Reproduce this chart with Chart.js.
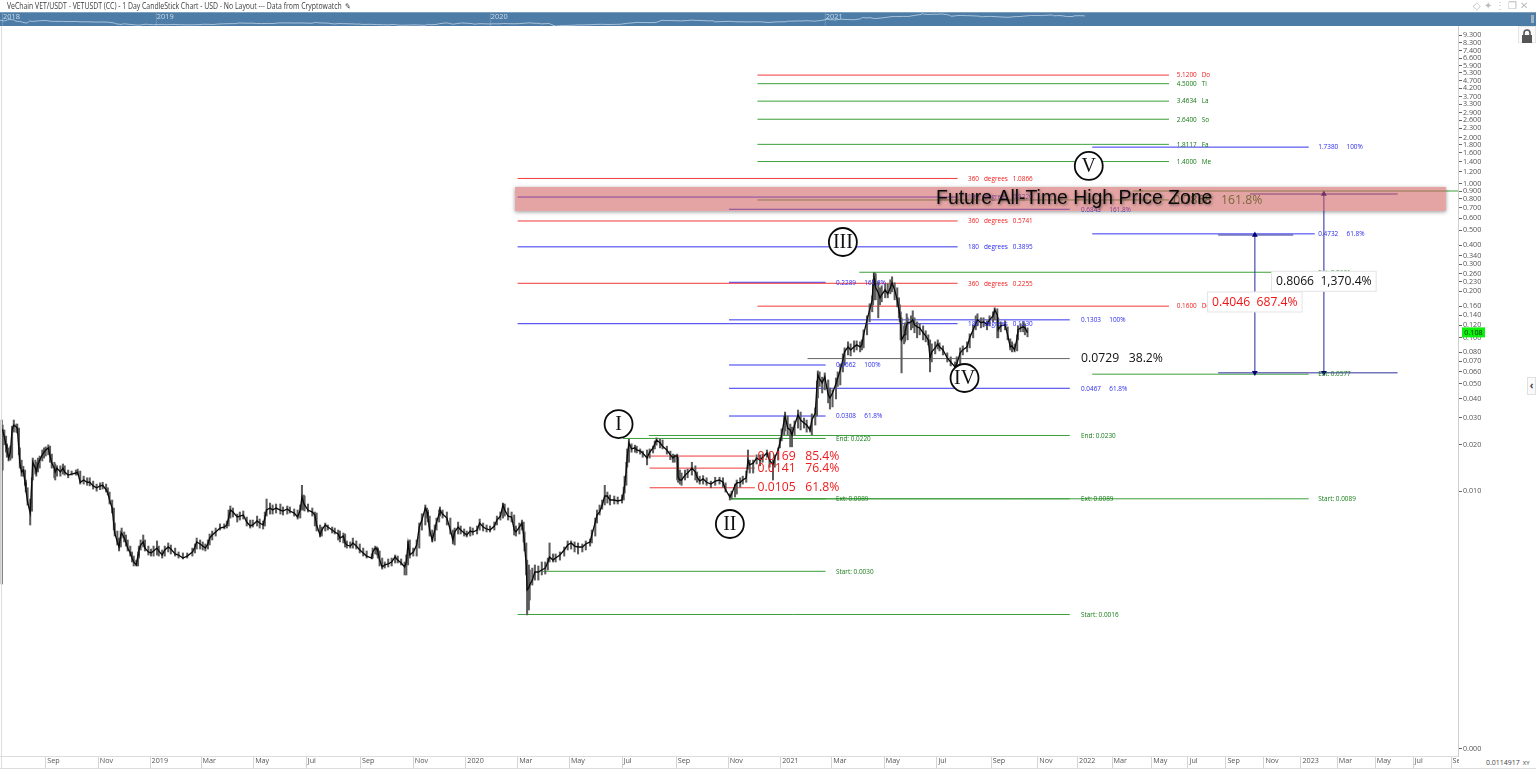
<!DOCTYPE html>
<html><head><meta charset="utf-8">
<script src="https://cdn.jsdelivr.net/npm/chart.js@4/dist/chart.umd.min.js"></script>
<style>
html,body{margin:0;padding:0;background:#fff;overflow:hidden;font-family:"Open Sans",sans-serif}
#wrap{position:relative;width:1536px;height:771px}
#main{position:absolute;left:0;top:0}
#nav{position:absolute;left:0;top:12px;width:1536px;height:14px;background:#4d7ca6;border-top:1px solid #7da0bf;box-sizing:border-box}
#title{position:absolute;left:7px;top:1px;font-size:8.1px;line-height:10px;color:#3a3a3a;white-space:nowrap;transform:scaleX(.85);transform-origin:0 0}
.abs{position:absolute}
#leftline{left:1px;top:26px;width:1px;height:742px;background:#ddd}
#botline{left:0;top:768px;width:1536px;height:1px;background:#ddd}
#cursor{left:1459px;top:757px;width:77px;height:11px;background:#fff;font-size:7px;line-height:11px;color:#444;white-space:nowrap}
#icons{left:1473px;top:0;width:63px;height:11px;font-size:10px;line-height:11px;color:#bbb;white-space:nowrap;letter-spacing:3px}
#lock{left:1518px;top:26px;width:18px;height:17px;background:#fafafa;border:1px solid #e6e6e6;box-sizing:border-box}
#chev{left:1527px;top:377px;width:9px;height:18px;background:#fafafa;border:1px solid #e0e0e0;box-sizing:border-box;font-size:10px;line-height:15px;text-align:center;color:#444;font-weight:bold}
</style></head><body>
<div id="wrap">
<canvas id="main" width="1536" height="771"></canvas>
<div id="title">VeChain VET/USDT - VETUSDT (CC) - 1 Day CandleStick Chart - USD - No Layout --- Data from Cryptowatch &nbsp;&#9998;</div>
<div id="nav"><canvas id="navc" width="1536" height="13"></canvas></div>
<div class="abs" id="leftline"></div><div class="abs" id="botline"></div>
<div class="abs" id="cursor"><span style="margin-left:27px">0.0114917</span><span style="margin-left:3px;font-size:6px">XY</span></div>
<div class="abs" id="icons">&#9671;&#10022;&#8942;&#10064;&#10005;</div>
<div class="abs" id="lock"><svg width="16" height="15" viewBox="0 0 16 15"><rect x="3" y="6" width="10" height="8" fill="#555"/><path d="M5 6V4a3 3 0 0 1 6 0v2" fill="none" stroke="#555" stroke-width="1.6"/></svg></div>
<div class="abs" id="chev">&#8249;</div>
</div>
<script>
// ---- chart values ----
const barDays=[
2,3,5,7,8,10,12,14,16,19,
20,22,23,25,27,29,30,32,35,37,
38,41,42,44,46,49,51,53,56,58,
60,63,64,66,70,73,75,79,83,88,
90,93,97,101,104,108,112,116,119,123,
125,127,130,132,133,136,138,140,141,144,
146,148,151,153,155,158,160,161,163,166,
168,172,175,178,182,184,188,191,195,198,
203,207,212,217,223,226,228,232,235,238,
241,243,246,250,255,260,263,265,267,270,
275,278,282,286,290,293,298,301,305,307,
309,313,316,320,325,328,333,336,341,345,
348,350,352,353,357,362,365,367,371,373,
377,380,385,388,392,394,398,400,402,406,
409,413,417,421,425,431,432,435,437,438,
440,443,446,450,454,458,461,465,469,471,
473,475,479,483,486,489,493,495,496,498,
501,504,506,509,510,513,518,522,525,527,
531,534,538,541,545,548,553,556,560,564,
568,573,576,580,583,585,589,593,596,598,
602,605,607,608,610,611,613,614,617,620,
624,628,632,635,637,641,644,649,654,658,
662,666,670,675,679,684,686,690,692,695,
698,701,704,707,712,716,721,723,724,726,
727,729,732,736,738,742,745,750,753,757,
759,761,765,768,773,777,780,782,785,786,
788,790,794,797,802,806,808,811,815,819,
824,829,834,838,841,846,848,852,854,858,
861,865,867,869,873,877,881,884,889,892,
896,898,902,904,906,909,910,913,916,918,
921,925,928,932,935,939,941,945,947,948,
950,953,956,960,962,965,969,971,974,977,
979,983,986,990,993,997,999,1001,1005,1008,
1011,1012,1013,1014,1015,1018,1020,1022,1026,1029,
1032,1034,1037,1040,1042,1043,1044,1045,1048,1049,
1051,1052,1056,1058,1060,1063,1066,1070,1073,1076,
1078,1080,1084,1087,1089,1093,1098,1102,1107,1109,
1113,1116,1121,1124,1128,1131,1133,1137,1140,1144,
1147,1151,1153,1156,1157,1160,1165,1168,1171,1173,
1176,1179,1180,1183,1186,1188,1191];
const closes=[
.025,.025,.0225,.02,.0185,.0164,.0179,.025,.0269,.0261,
.0257,.0185,.0152,.0133,.0137,.0114,.0102,.00848,.00719,.0118,
.0154,.0141,.0133,.015,.0159,.0172,.0179,.0185,.0191,.0169,
.0152,.0141,.0133,.0141,.0133,.0141,.0133,.0127,.0129,.0131,
.0133,.0114,.0118,.0114,.0114,.0108,.0105,.0108,.0109,.0102,
.0097,.00874,.00775,.00601,.00533,.00466,.00432,.00517,.00533,.00494,
.00466,.00425,.00395,.00366,.00345,.0033,.00383,.00413,.00445,.00466,
.00425,.00401,.00395,.00407,.00425,.00407,.00383,.00413,.00432,.00419,
.00389,.00383,.00366,.00377,.00401,.00432,.00466,.00452,.00438,.00425,
.00452,.00494,.00517,.00541,.00574,.00583,.00601,.00667,.00752,.0073,
.00677,.00687,.00698,.00628,.00592,.00601,.00638,.00619,.00601,.00667,
.00752,.00775,.00752,.00775,.00752,.00741,.00764,.00741,.00719,.00677,
.00752,.00914,.00835,.00811,.00752,.0073,.00698,.00601,.00517,.00557,
.00601,.00583,.00557,.00541,.00525,.00494,.00509,.00459,.00445,.00438,
.00459,.00438,.00413,.00395,.00377,.00366,.00401,.00425,.00419,.00401,
.00355,.0032,.0033,.00335,.00345,.00372,.00355,.0034,.0032,.00345,
.00459,.00383,.00401,.00445,.00583,.00647,.00775,.0073,.00677,.00557,
.0048,.00557,.00628,.00708,.00752,.00708,.00667,.00557,.0048,.00541,
.00583,.00557,.00533,.00517,.00549,.00541,.00557,.00619,.00583,.00566,
.00557,.00592,.00647,.00687,.00811,.00752,.00687,.00677,.00557,.00541,
.00583,.00619,.00517,.00445,.0033,.00227,.00235,.00245,.00263,.00297,
.00297,.00306,.00315,.00345,.00372,.00355,.00366,.00383,.00413,.00445,
.00459,.00438,.00432,.00432,.00452,.00466,.00517,.00628,.00698,.0073,
.00811,.00928,.00928,.00874,.00874,.00861,.00874,.00985,.0109,.0137,
.0166,.0206,.0188,.0191,.0185,.0182,.0177,.0164,.0179,.0191,
.0203,.0215,.0206,.0196,.0185,.0172,.0164,.0169,.0169,.0123,
.0118,.0118,.0127,.0131,.0141,.0133,.0123,.0116,.0120,.0114,
.0111,.0116,.0118,.0114,.0102,.00914,.00956,.0109,.0113,.0114,
.0118,.0122,.0159,.0148,.0152,.0164,.0159,.0166,.0177,.0159,
.0148,.0164,.0185,.0206,.0232,.029,.0308,.0257,.025,.0232,
.0269,.0313,.029,.0277,.0269,.025,.029,.0322,.0491,.057,
.0537,.0506,.0554,.0423,.0404,.0435,.0499,.0545,.0615,.0714,
.0806,.0869,.083,.0869,.0895,.0869,.0895,.1041,.1304,.1515,
.176,.2205,.2487,.2377,.2108,.1956,.1814,.1898,.2046,.1927,
.2108,.2272,.2046,.176,.1515,.1405,.121,.0965,.1041,.1089,
.121,.1246,.1265,.1304,.121,.1173,.1156,.1073,.1025,.0965,
.0737,.0806,.0856,.0909,.0869,.083,.0737,.0693,.0643,.0673,
.0794,.083,.0869,.0995,.1122,.1228,.1304,.1246,.1265,.121,
.1304,.1384,.1515,.1405,.1122,.1191,.121,.1041,.0869,.0882,
.083,.0995,.1122,.1156,.1173,.1156,.1073];
const highs=[
.029,.0269,.025,.0228,.0203,.0191,.0196,.0265,.029,.0273,
.0273,.0257,.0191,.0159,.0145,.0137,.0118,.0105,.00887,.0122,
.0164,.0159,.0154,.0164,.0169,.0185,.0191,.0194,.02,.0196,
.0174,.0154,.0150,.0146,.0146,.015,.0146,.0137,.0135,.0137,
.0139,.0135,.0125,.0122,.0122,.0116,.0111,.0113,.0114,.0111,
.0105,.00985,.00874,.00775,.00619,.00549,.00494,.00549,.00574,.00541,
.00517,.0048,.00438,.00401,.00377,.00355,.00401,.00438,.0048,.00517,
.0048,.00438,.00419,.00438,.00473,.00438,.00413,.00438,.00459,.00445,
.00425,.00401,.00395,.00395,.00425,.00452,.00494,.0048,.00466,.00452,
.0048,.00525,.00549,.00574,.00611,.00611,.00638,.00752,.00799,.00775,
.00708,.0073,.00741,.00677,.00647,.00647,.00687,.00657,.00638,.0073,
.00887,.00835,.00811,.00823,.00823,.00787,.00799,.00787,.00764,.00752,
.00811,.0109,.00942,.00928,.00823,.00775,.00730,.00719,.00601,.00583,
.00619,.00601,.00583,.00574,.00557,.00549,.00533,.00525,.00473,.00466,
.00494,.00473,.00452,.00425,.00407,.00389,.00425,.00438,.00432,.00425,
.00407,.00366,.00345,.00361,.00366,.00383,.00377,.00361,.00345,.00383,
.00473,.0048,.00425,.0048,.00619,.00711,.00811,.00775,.00752,.00687,
.00557,.00601,.00667,.00752,.00787,.00752,.00730,.00667,.00557,.00574,
.00628,.00592,.00566,.00549,.00583,.00574,.00592,.00657,.00619,.00601,
.00592,.00628,.00687,.0073,.00835,.00823,.00775,.0073,.00698,.00592,
.00619,.00647,.00628,.00541,.00459,.00355,.0033,.00306,.00315,.0033,
.00325,.00345,.00345,.00366,.00459,.00389,.00389,.00401,.00432,.00473,
.00473,.00466,.00459,.00452,.00473,.00487,.00557,.00667,.00752,.00811,
.00874,.0109,.00985,.00942,.00928,.00914,.00942,.0106,.0125,.0154,
.0188,.0218,.0203,.0199,.0196,.0188,.0182,.0185,.0188,.0196,
.0212,.0222,.0218,.0215,.0196,.0182,.0174,.0172,.0174,.0166,
.0137,.0131,.0137,.0139,.0154,.0146,.0133,.0125,.0126,.0122,
.0116,.0123,.0123,.0122,.0113,.00960,.00998,.0111,.0118,.0122,
.0125,.0135,.0185,.0159,.0159,.0172,.0172,.0174,.0185,.0177,
.0159,.0172,.0191,.0222,.0254,.0308,.0327,.0308,.0273,.0261,
.0286,.0337,.0327,.0299,.029,.0265,.0318,.0348,.0521,.0606,
.0597,.0552,.0588,.0529,.0469,.0456,.0545,.0597,.0673,.0782,
.0856,.0937,.0909,.0951,.0951,.0937,.0965,.1122,.1384,.1658,
.1869,.2377,.264,.264,.26,.2306,.2108,.2172,.2238,.2238,
.2377,.2487,.2272,.2108,.1814,.1633,.147,.1344,.1191,.1246,
.1427,.1344,.1384,.1492,.1344,.1265,.1228,.1191,.1105,.1041,
.0965,.0909,.0937,.0965,.0923,.0882,.0794,.0748,.0693,.0748,
.0856,.0882,.0937,.1057,.121,.1384,.1427,.1344,.1344,.1284,
.1384,.147,.1561,.1538,.1344,.1265,.1284,.1173,.098,.0937,
.0909,.1041,.1191,.1228,.1265,.1228,.1156];
const lows=[
.00248,.0137,.02,.0179,.0166,.0157,.0159,.0164,.0242,.0242,
.0239,.0172,.0141,.0125,.0125,.0109,.00985,.0081,.00601,.00739,
.0118,.0129,.0125,.0133,.0141,.0157,.0164,.0169,.0172,.0154,
.0141,.0122,.0118,.0125,.0125,.0129,.0127,.0122,.0127,.0127,
.0127,.0111,.0111,.0109,.0108,.0103,.00998,.0102,.0103,.00985,
.00942,.00823,.00719,.00557,.00509,.00445,.00407,.00432,.00494,.00466,
.00438,.00407,.00377,.00345,.00325,.00325,.00325,.00366,.00413,.00432,
.00407,.00383,.00377,.00377,.00383,.00377,.00366,.00377,.00401,.00389,
.00377,.00366,.00361,.00366,.00377,.00395,.00419,.00419,.00413,.00407,
.00419,.00445,.00480,.00509,.00557,.00566,.00574,.00592,.00667,.00677,
.00628,.00647,.00657,.00592,.00574,.00583,.00592,.00574,.00566,.00592,
.00687,.00708,.00708,.00719,.00708,.00698,.00708,.00719,.00687,.00657,
.00667,.00752,.00752,.00741,.0073,.00687,.00592,.00549,.00502,.00509,
.00549,.00557,.00533,.00525,.00480,.00466,.00459,.00432,.00425,.00425,
.00425,.00419,.00395,.00377,.00366,.00361,.00366,.00389,.00383,.00366,
.00325,.0031,.00315,.0032,.00325,.00340,.0034,.00330,.00284,.00284,
.0033,.00366,.00377,.00377,.00425,.00557,.00601,.00667,.00628,.00509,
.00466,.00473,.00557,.00628,.00687,.00667,.00601,.00525,.00452,.00445,
.00525,.00525,.00509,.00502,.00509,.00517,.00525,.00557,.00549,.00541,
.00541,.00557,.00601,.00647,.00667,.00687,.00647,.00628,.00517,.00509,
.00525,.00557,.00466,.00407,.00284,.00156,.00168,.00195,.00244,.00263,
.00263,.00284,.00288,.00306,.00345,.00345,.00345,.00355,.00377,.00413,
.00419,.00401,.00389,.00401,.00413,.00438,.00459,.00509,.00619,.00698,
.00762,.00811,.00835,.00811,.00823,.00823,.00835,.00874,.0097,.0109,
.0143,.0154,.0179,.0179,.0177,.0174,.0166,.0148,.0164,.0177,
.0188,.0199,.0191,.0188,.0174,.0160,.0154,.0154,.0118,.0114,
.0111,.0109,.0118,.0122,.0127,.0118,.0114,.0111,.0111,.0109,
.0105,.0109,.0111,.0106,.00985,.00874,.00887,.00914,.00956,.0106,
.0111,.0114,.0139,.0131,.0131,.0150,.0146,.0154,.0166,.0143,
.0118,.0143,.0159,.0191,.0212,.0232,.0246,.0232,.0194,.0194,
.0232,.0257,.0250,.0257,.0242,.0242,.0232,.0269,.0308,.0404,
.0480,.0435,.0456,.0375,.0342,.0353,.0398,.0480,.0491,.0597,
.0663,.0770,.0759,.0804,.0830,.0806,.0830,.0856,.1041,.1265,
.147,.1633,.1898,.176,.176,.1344,.1633,.1708,.1814,.1814,
.1927,.1985,.176,.1583,.1344,.1265,.0965,.0588,.0909,.0937,
.1041,.0965,.1122,.1156,.1073,.0995,.1041,.0965,.0937,.0895,
.0597,.0693,.0782,.0843,.0818,.0770,.0693,.0653,.0615,.0606,
.0653,.0770,.0806,.0856,.0995,.1122,.1191,.1156,.1173,.1122,
.1191,.1265,.1304,.0995,.0995,.1089,.1122,.0965,.083,.0806,
.0806,.0818,.0965,.1089,.1089,.1041,.101];
const lastPrice=0.108;

const monthTickDays=[53,114,174,233,294,355,418,479,540,600,660,721,784,844,905,964,1025,1086,1149,1203,1249,1289,1335,1377,1421,1465,1508,1550,1594,1638,1682];
const monthLabels=["Sep","Nov","2019","Mar","May","Jul","Sep","Nov","2020","Mar","May","Jul","Sep","Nov","2021","Mar","May","Jul","Sep","Nov","2022","Mar","May","Jul","Sep","Nov","2023","Mar","May","Jul","Sep"];
const priceTicks=[9.3,8.3,7.4,6.6,5.9,5.3,4.7,4.2,3.7,3.3,2.9,2.6,2.3,2,1.8,1.6,1.4,1.2,1,.9,.8,.7,.6,.5,.4,.34,.3,.26,.23,.2,.16,.14,.12,.1,.08,.07,.06,.05,.04,.03,.02,.01,.00021];

const levelStart=[878,878,878,878,878,878,878,878,600,600,600,600,600,600,845,845,845,845,845,845,722,752,846,846,846,629,600,936,753,753,753,996,1266,1266,1266,1313];
const levelEnd=[1355,1355,1355,1355,1355,1355,1355,1355,1110,1110,1110,1110,1110,1110,1240,1240,1240,957,957,957,957,1240,957,1240,1517,957,1240,1240,875,875,875,1517,1517,1524,1517,1690];
const levelPrice=[5.12,4.5,3.4634,2.64,1.8117,1.4,.7868,.16,1.0866,.5741,.2255,.822,.3895,.123,.6843,.1303,.0467,.2289,.0662,.0308,.022,.023,.0089,.0089,.0089,.003,.00157,.0729,.0169,.0141,.0105,.2661,.0577,.4732,1.738,.9];
const levelKind=["red","green","green","green","green","green","green","red","red","red","red","blue","blue","blue","blue","blue","blue","blue","blue","blue","green","green","green","green","green","green","green","black","red","red","red","green","green","blue","blue","green"];
const levelText=["5.1200  Do","4.5000  Ti","3.4634  La","2.6400  So","1.8117  Fa","1.4000  Me","0.7868   161.8%","0.1600  Do","360  degrees  1.0866","360  degrees  0.5741","360  degrees  0.2255","180  degrees  0.8220","180  degrees  0.3895","180  degrees  0.1230","0.6843   161.8%","0.1303   100%","0.0467   61.8%","0.2289   161.8%","0.0662   100%","0.0308   61.8%","End: 0.0220","End: 0.0230","Ext: 0.0089","Ext: 0.0089","Start: 0.0089","Start: 0.0030","Start: 0.0016","0.0729   38.2%","0.0169   85.4%","0.0141   76.4%","0.0105   61.8%","Ext: 0.2661","Ext: 0.0577","0.4732   61.8%","1.7380   100%",""];
const levelLabelDay=[1364,1364,1364,1364,1364,1364,1360,1364,1122,1122,1122,1122,1122,1122,1253,1253,1253,969,969,969,969,1253,969,1253,1528,969,1253,1253,878,878,878,1528,1528,1528,1528,0];
const bigLevelPrices=[.7868,.0729,.0169,.0141,.0105];

const measureStart=[1449,1412,1412];
const measureEnd=[1620,1499,1620];
const measurePrice=[.861,.4652,.059];
const arrowDay=[1454.5,1534.5];
const arrowBase=[.059,.059];
const arrowTop=[.4652,.861];
const measureBoxText=["0.4046  687.4%","0.8066  1,370.4%"];
const measureBoxPrice=[.1704,.2324];

const waveLabels=["I","II","III","IV","V"];
const waveDays=[717,846,977,1118,1262];
const wavePrices=[.0273,.0061,.419,.0545,1.31];

const zoneStart=597, zoneEnd=1676, zoneHigh=.956, zoneLow=.667;
const zoneText="Future All-Time High Price Zone";
const zoneTextDay=1085, zoneTextPrice=.80;

const navYearLabels=["2018","2019","2020","2021"];
const navYearDays=[9,177,542,908];

// ---- styles ----
const FONT='"Open Sans"';
const colours={red:"#f23a3a",green:"#3a9f3a",blue:"#3434ee",black:"#666666"};
const textColours={red:"#ee1c1c",green:"#127a12",blue:"#2a2af0",black:"#111111"};

const levelSets=levelPrice.map((p,i)=>({
  type:"line",order:5,
  data:[{x:levelStart[i],y:p},{x:levelEnd[i],y:p}],
  borderColor:colours[levelKind[i]],borderWidth:1,pointRadius:0,fill:false,tension:0
}));
const measureSets=measurePrice.map((p,i)=>({
  type:"line",order:4,
  data:[{x:measureStart[i],y:p},{x:measureEnd[i],y:p}],
  borderColor:"rgba(70,70,170,.75)",borderWidth:1.6,pointRadius:0
}));
const arrowSets=arrowDay.map((d,i)=>({
  type:"line",order:3,
  data:[{x:d,y:arrowBase[i]},{x:d,y:arrowTop[i]}],
  borderColor:"rgba(60,60,170,.8)",borderWidth:1.4,
  pointStyle:"triangle",pointRadius:3.4,pointRotation:[180,0],
  pointBackgroundColor:"#000070",pointBorderColor:"#000070",pointBorderWidth:0
}));
const wickSet={
  type:"bar",order:1,
  data:barDays.map((d,i)=>({x:d,y:[lows[i],highs[i]]})),
  backgroundColor:"#5c5c5c",borderWidth:0,barThickness:1.4,grouped:false
};
const closeSet={
  type:"line",order:0,
  data:barDays.map((d,i)=>({x:d,y:closes[i]})),
  borderColor:"#0b0b0b",borderWidth:1.35,pointRadius:0,tension:0
};

const overlay={
  id:"overlay",
  afterDatasetsDraw(c){
    const g=c.ctx,X=c.scales.x,Y=c.scales.y;
    g.save();
    // level labels
    g.textBaseline="middle";g.textAlign="left";
    levelText.forEach((t,i)=>{
      if(!t)return;
      const big=bigLevelPrices.includes(levelPrice[i]);
      const sx=big?.94:.8;
      const txt=big?t.replace(/ /g,"\u00a0"):t.replace(/ {2,}/g,m=>"\u00a0".repeat(Math.ceil(m.length*1.5))).replace(/ /g,"\u00a0");
      g.font=(big?"13px ":"8px ")+FONT;
      g.fillStyle=textColours[levelKind[i]];
      g.save();
      g.translate(X.getPixelForValue(levelLabelDay[i]),Y.getPixelForValue(levelPrice[i]));
      g.scale(sx,1);g.fillText(txt,0,0);g.restore();
    });
    // price zone
    const zx=X.getPixelForValue(zoneStart),zw=X.getPixelForValue(zoneEnd)-zx;
    const zy=Y.getPixelForValue(zoneHigh),zh=Y.getPixelForValue(zoneLow)-zy;
    g.save();
    g.beginPath();g.rect(zx-12,zy-12,zw+24,zh+24);g.rect(zx,zy,zw,zh);g.clip("evenodd");
    g.shadowColor="rgba(0,0,0,.4)";g.shadowBlur=4;g.shadowOffsetY=1;
    g.fillStyle="#ddd";g.fillRect(zx,zy,zw,zh);g.restore();
    g.fillStyle="rgba(205,90,90,.55)";g.fillRect(zx,zy,zw,zh);
    g.save();g.shadowColor="rgba(0,0,0,.55)";g.shadowBlur=3;g.shadowOffsetX=1;g.shadowOffsetY=1;
    g.font='19.4px "Liberation Sans"';g.fillStyle="#0a0a0a";
    g.fillText(zoneText,X.getPixelForValue(zoneTextDay),Y.getPixelForValue(zoneTextPrice));g.restore();
    // measure boxes
    g.font="12.2px "+FONT;g.textAlign="center";
    measureBoxText.forEach((t,i)=>{
      const cx=X.getPixelForValue(arrowDay[i]),cy=Y.getPixelForValue(measureBoxPrice[i]);
      const label=t.replace(/ /g,"\u00a0");
      const w=g.measureText(label).width+9,h=20;
      g.fillStyle="#fff";g.strokeStyle="#e4e4e4";g.lineWidth=1;
      g.fillRect(cx-w/2,cy-h/2,w,h);g.strokeRect(cx-w/2,cy-h/2,w,h);
      g.fillStyle=i===0?"#f01414":"#111";
      g.fillText(label,cx,cy+.5);
    });
    // wave circles
    g.font='20px "Liberation Serif"';
    waveLabels.forEach((t,i)=>{
      const cx=X.getPixelForValue(waveDays[i]),cy=Y.getPixelForValue(wavePrices[i]);
      g.beginPath();g.arc(cx,cy,14,0,Math.PI*2);
      g.fillStyle="#fff";g.fill();g.strokeStyle="#0a0a0a";g.lineWidth=1.8;g.stroke();
      g.fillStyle="#111";g.fillText(t,cx,cy+1);
    });
    // last price tag
    const ty=Y.getPixelForValue(lastPrice);
    g.fillStyle="#0cf00c";g.fillRect(1462,ty-5,23,10);
    g.font="7.2px "+FONT;g.fillStyle="#0a2a0a";g.textAlign="center";
    g.fillText(lastPrice.toFixed(3),1473.5,ty+.5);
    g.restore();
  }
};

new Chart(document.getElementById("main"),{
  type:"bar",
  data:{datasets:[wickSet,closeSet,...arrowSets,...measureSets,...levelSets]},
  options:{
    responsive:false,animation:false,parsing:{xAxisKey:"x",yAxisKey:"y"},
    layout:{autoPadding:false,padding:{top:26,left:0,right:0,bottom:0}},
    plugins:{legend:{display:false},tooltip:{enabled:false},title:{display:false}},
    scales:{
      x:{type:"linear",min:0,max:1690,offset:false,position:"bottom",
        afterBuildTicks:s=>{s.ticks=monthTickDays.map(v=>({value:v}))},
        afterFit:s=>{s.height=15;s.paddingLeft=0;s.paddingRight=0},
        grid:{offset:false,drawOnChartArea:false,drawTicks:true,tickLength:12,color:"#d4d4d4"},
        border:{color:"#dcdcdc"},
        ticks:{autoSkip:false,maxRotation:0,minRotation:0,align:"start",padding:-11,labelOffset:1.5,
          font:{family:FONT,size:7.2},color:"#555",
          callback:(v,i)=>monthLabels[i]}
      },
      y:{type:"logarithmic",position:"right",min:.000188,max:10.69,
        afterBuildTicks:s=>{s.ticks=priceTicks.map(v=>({value:v}))},
        afterFit:s=>{s.width=78;s.paddingTop=0;s.paddingBottom=0;s.paddingLeft=0;s.paddingRight=0},
        grid:{drawOnChartArea:false,drawTicks:true,tickLength:4,color:"#666"},
        border:{color:"#cfcfcf"},
        ticks:{autoSkip:false,padding:1,font:{family:FONT,size:7.2},color:"#555",
          callback:v=>v.toFixed(3)}
      }
    }
  },
  plugins:[overlay]
});

const navOverlay={
  id:"navOverlay",
  afterDatasetsDraw(c){
    const g=c.ctx,X=c.scales.x;
    g.save();g.font="7.4px "+FONT;g.textBaseline="top";g.textAlign="left";
    navYearLabels.forEach((t,i)=>{
      const px=X.getPixelForValue(navYearDays[i]);
      g.fillStyle="rgba(255,255,255,.2)";g.fillRect(px-1,0,1,13);
      g.fillStyle="#cfdfee";g.fillText(t,px,0);
    });
    g.fillStyle="#9fb2c4";g.fillRect(1531,2,3,8);
    g.restore();
  }
};
new Chart(document.getElementById("navc"),{
  type:"line",
  data:{datasets:[{data:barDays.map((d,i)=>({x:d,y:closes[i]})),borderColor:"rgba(200,218,235,.75)",borderWidth:1,pointRadius:0,tension:0}]},
  options:{responsive:false,animation:false,
    layout:{padding:0,autoPadding:false},
    plugins:{legend:{display:false},tooltip:{enabled:false}},
    scales:{x:{type:"linear",display:false,min:5.7,max:1684},
            y:{type:"logarithmic",display:false,min:.0024,max:.324}}},
  plugins:[navOverlay]
});
</script>
</body></html>
